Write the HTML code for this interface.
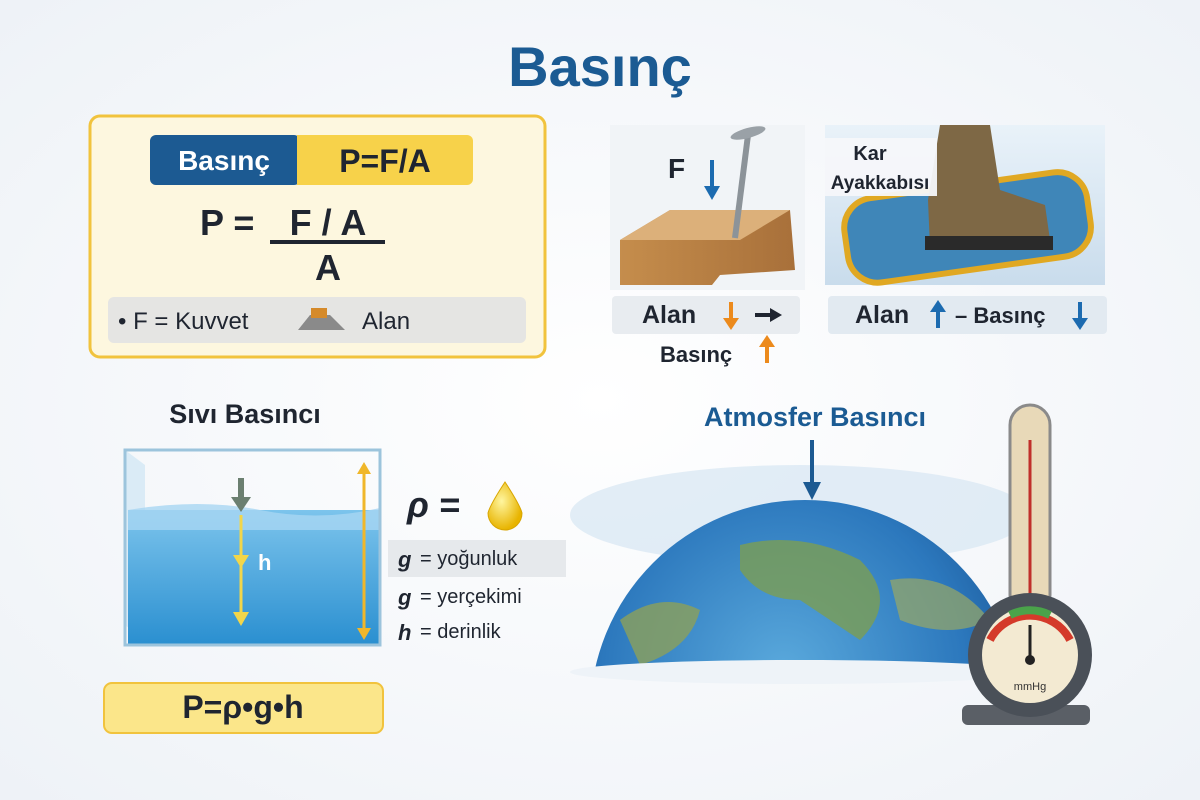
<!DOCTYPE html>
<html><head><meta charset="utf-8">
<style>
html,body{margin:0;padding:0;width:1200px;height:800px;overflow:hidden;background:#f6f8fb;font-family:"Liberation Sans",sans-serif;}
svg{display:block;}
svg text{font-family:"Liberation Sans",sans-serif;}
</style></head><body>
<svg width="1200" height="800" viewBox="0 0 1200 800" xmlns="http://www.w3.org/2000/svg">
<defs>
<radialGradient id="bg" cx="50%" cy="50%" r="70%"><stop offset="0" stop-color="#ffffff"/><stop offset="1" stop-color="#eef2f7"/></radialGradient>
<linearGradient id="water" x1="0" y1="0" x2="0" y2="1"><stop offset="0" stop-color="#7cc4ec"/><stop offset="1" stop-color="#2a8fd0"/></linearGradient>
<radialGradient id="earth" cx="45%" cy="40%" r="60%"><stop offset="0" stop-color="#5aa9dc"/><stop offset="0.7" stop-color="#2c78bd"/><stop offset="1" stop-color="#1c5a9a"/></radialGradient>
<linearGradient id="wood" x1="0" y1="0" x2="1" y2="0"><stop offset="0" stop-color="#c58d4c"/><stop offset="1" stop-color="#a8703a"/></linearGradient>
<radialGradient id="drop" cx="40%" cy="40%" r="60%"><stop offset="0" stop-color="#fff6a0"/><stop offset="1" stop-color="#e8b400"/></radialGradient>
<linearGradient id="snow" x1="0" y1="0" x2="0" y2="1"><stop offset="0" stop-color="#e9f2f9"/><stop offset="1" stop-color="#c9dcec"/></linearGradient>
</defs>
<rect width="1200" height="800" fill="url(#bg)"/>

<text x="600" y="86" text-anchor="middle" font-size="56" font-weight="bold" fill="#1b5b93">Basınç</text>

<rect x="90" y="116" width="455" height="241" rx="10" fill="#fdf7df" stroke="#f1c33d" stroke-width="3"/>
<rect x="150" y="135" width="150" height="50" rx="6" fill="#1c5a92"/>
<rect x="297" y="135" width="176" height="50" rx="6" fill="#f7d24a"/>
<rect x="297" y="135" width="10" height="50" fill="#f7d24a"/>
<text x="224" y="170" text-anchor="middle" font-size="28" font-weight="bold" fill="#fff">Basınç</text>
<text x="385" y="172" text-anchor="middle" font-size="32" font-weight="bold" fill="#1f2530">P=F/A</text>
<text x="200" y="235" font-size="36" font-weight="bold" fill="#1f2530">P =</text>
<text x="328" y="235" text-anchor="middle" font-size="36" font-weight="bold" fill="#1f2530">F / A</text>
<rect x="270" y="240" width="115" height="4" fill="#1f2530"/>
<text x="328" y="280" text-anchor="middle" font-size="36" font-weight="bold" fill="#1f2530">A</text>
<rect x="108" y="297" width="418" height="46" rx="6" fill="#e5e5e3"/>
<text x="118" y="329" font-size="24" fill="#1f2530">• F = Kuvvet</text>
<path d="M298 330 L310 315 L330 315 L345 330 Z" fill="#8a8a8a"/>
<rect x="311" y="308" width="16" height="10" fill="#d58a2a"/>
<text x="362" y="329" font-size="24" fill="#1f2530">Alan</text>

<rect x="610" y="125" width="195" height="165" fill="#f1f4f7"/>
<path d="M620 240 L670 210 L790 210 L795 270 L720 275 L712 285 L620 285 Z" fill="url(#wood)"/>
<path d="M620 240 L670 210 L790 210 L740 240 Z" fill="#dcb07a"/>
<line x1="748" y1="135" x2="735" y2="238" stroke="#8c9399" stroke-width="6"/>
<ellipse cx="748" cy="133" rx="18" ry="5" fill="#9aa1a7" transform="rotate(-15 748 133)"/>
<text x="668" y="178" font-size="28" font-weight="bold" fill="#1f2530">F</text>
<line x1="712" y1="160" x2="712" y2="190" stroke="#1c6bb0" stroke-width="4"/>
<path d="M704 186 L712 200 L720 186 Z" fill="#1c6bb0"/>

<rect x="825" y="125" width="280" height="160" fill="url(#snow)"/>
<rect x="845" y="185" width="245" height="85" rx="30" fill="#3f86b8" stroke="#e0a822" stroke-width="6" transform="rotate(-8 967 227)"/>
<path d="M940 125 L990 125 L1000 190 L1045 205 L1050 240 L930 248 L928 200 Z" fill="#7e6845"/>
<rect x="925" y="236" width="128" height="14" fill="#2a2a2a"/>
<rect x="825" y="138" width="112" height="58" fill="#f5f7fa" opacity="0.95"/>
<text x="870" y="160" text-anchor="middle" font-size="20" font-weight="bold" fill="#1f2530">Kar</text>
<text x="880" y="189" text-anchor="middle" font-size="19" font-weight="bold" fill="#1f2530">Ayakkabısı</text>

<rect x="612" y="296" width="188" height="38" rx="4" fill="#e8ecf0"/>
<text x="642" y="323" font-size="25" font-weight="bold" fill="#1f2530">Alan</text>
<line x1="731" y1="302" x2="731" y2="322" stroke="#ec8a1c" stroke-width="4"/>
<path d="M723 318 L731 330 L739 318 Z" fill="#ec8a1c"/>
<line x1="755" y1="315" x2="772" y2="315" stroke="#1f2530" stroke-width="4"/>
<path d="M770 308 L782 315 L770 322 Z" fill="#1f2530"/>
<text x="660" y="362" font-size="22" font-weight="bold" fill="#1f2530">Basınç</text>
<line x1="767" y1="343" x2="767" y2="363" stroke="#ec8a1c" stroke-width="4"/>
<path d="M759 347 L767 335 L775 347 Z" fill="#ec8a1c"/>
<rect x="828" y="296" width="279" height="38" rx="4" fill="#e2eaf1"/>
<text x="855" y="323" font-size="25" font-weight="bold" fill="#1f2530">Alan</text>
<line x1="938" y1="310" x2="938" y2="328" stroke="#1c6bb0" stroke-width="4"/>
<path d="M930 312 L938 300 L946 312 Z" fill="#1c6bb0"/>
<text x="955" y="323" font-size="22" font-weight="bold" fill="#1f2530">– Basınç</text>
<line x1="1080" y1="302" x2="1080" y2="320" stroke="#1c6bb0" stroke-width="4"/>
<path d="M1072 318 L1080 330 L1088 318 Z" fill="#1c6bb0"/>

<text x="245" y="423" text-anchor="middle" font-size="27" font-weight="bold" fill="#1f2530">Sıvı Basıncı</text>
<path d="M125 450 L145 465 L145 640 L125 625 Z" fill="#cfe6f4" opacity="0.7"/>
<rect x="128" y="510" width="252" height="135" fill="url(#water)"/>
<path d="M128 510 Q200 498 260 510 T380 508 L380 530 L128 530 Z" fill="#a7d6f2" opacity="0.8"/>
<rect x="125" y="450" width="255" height="195" fill="none" stroke="#9cc4dc" stroke-width="3"/>
<line x1="241" y1="478" x2="241" y2="500" stroke="#6b7f70" stroke-width="6"/>
<path d="M231 497 L241 512 L251 497 Z" fill="#6b7f70"/>
<line x1="241" y1="515" x2="241" y2="615" stroke="#f2d64a" stroke-width="3"/>
<path d="M233 555 L241 568 L249 555 Z" fill="#f2d64a"/>
<path d="M233 612 L241 626 L249 612 Z" fill="#f2d64a"/>
<text x="258" y="570" font-size="22" font-weight="bold" fill="#fff">h</text>
<line x1="364" y1="472" x2="364" y2="630" stroke="#f0b72a" stroke-width="3"/>
<path d="M357 474 L364 462 L371 474 Z" fill="#f0b72a"/>
<path d="M357 628 L364 640 L371 628 Z" fill="#f0b72a"/>

<text x="407" y="517" font-size="36" font-style="italic" font-weight="bold" fill="#1f2530">ρ =</text>
<path d="M505 482 Q490 505 488 513 A17 17 0 0 0 522 513 Q520 505 505 482 Z" fill="url(#drop)" stroke="#d8a500"/>
<rect x="388" y="540" width="178" height="37" fill="#e6e9ec"/>
<text x="398" y="567" font-size="22" font-style="italic" font-weight="bold" fill="#1f2530">g</text>
<text x="420" y="565" font-size="20" fill="#1f2530">= yoğunluk</text>
<text x="398" y="605" font-size="22" font-style="italic" font-weight="bold" fill="#1f2530">g</text>
<text x="420" y="603" font-size="20" fill="#1f2530">= yerçekimi</text>
<text x="398" y="640" font-size="22" font-style="italic" font-weight="bold" fill="#1f2530">h</text>
<text x="420" y="638" font-size="20" fill="#1f2530">= derinlik</text>

<rect x="104" y="683" width="279" height="50" rx="8" fill="#fbe68a" stroke="#f1c33d" stroke-width="2"/>
<text x="243" y="718" text-anchor="middle" font-size="32" font-weight="bold" fill="#1f2530">P=ρ•g•h</text>

<text x="815" y="426" text-anchor="middle" font-size="27" font-weight="bold" fill="#1b5b93">Atmosfer Basıncı</text>
<ellipse cx="800" cy="515" rx="230" ry="50" fill="#dbe9f4" opacity="0.8"/>
<clipPath id="ec"><rect x="560" y="480" width="450" height="190"/></clipPath>
<g clip-path="url(#ec)">
<circle cx="805" cy="715" r="215" fill="url(#earth)"/>
<path d="M740 545 Q800 530 860 560 Q900 600 860 640 Q830 620 800 600 Q760 600 740 570 Z" fill="#7c9e52" opacity="0.8"/>
<path d="M620 620 Q660 590 700 610 Q690 650 640 665 Z" fill="#8ca05a" opacity="0.8"/>
<path d="M890 580 Q950 570 990 620 Q950 640 900 620 Z" fill="#9aa864" opacity="0.7"/>
</g>
<ellipse cx="800" cy="672" rx="230" ry="12" fill="#eef3f8"/>
<line x1="812" y1="440" x2="812" y2="485" stroke="#1c5a92" stroke-width="4"/>
<path d="M803 482 L812 500 L821 482 Z" fill="#1c5a92"/>

<rect x="1010" y="405" width="40" height="210" rx="20" fill="#e8d9b8" stroke="#8a8a8a" stroke-width="3"/>
<line x1="1030" y1="440" x2="1030" y2="610" stroke="#c0302a" stroke-width="3"/>
<rect x="962" y="705" width="128" height="20" rx="6" fill="#5a5f66"/>
<circle cx="1030" cy="655" r="62" fill="#4a5058"/>
<circle cx="1030" cy="655" r="48" fill="#f3ead2"/>
<path d="M990 640 A45 45 0 0 1 1070 640" fill="none" stroke="#d43a2a" stroke-width="8"/>
<path d="M1010 615 A45 45 0 0 1 1050 615" fill="none" stroke="#4aa34a" stroke-width="8"/>
<line x1="1030" y1="660" x2="1030" y2="625" stroke="#222" stroke-width="3"/>
<circle cx="1030" cy="660" r="5" fill="#222"/>
<text x="1030" y="690" text-anchor="middle" font-size="11" fill="#333">mmHg</text>
</svg>
</body></html>
